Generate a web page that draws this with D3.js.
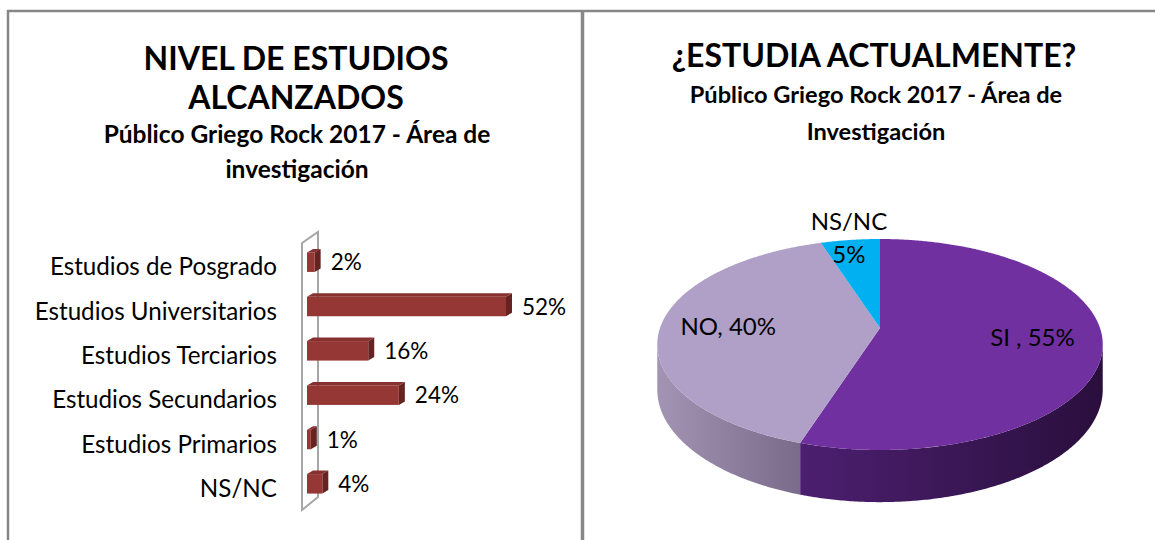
<!DOCTYPE html>
<html><head><meta charset="utf-8">
<script src="https://cdn.jsdelivr.net/npm/d3@7/dist/d3.min.js"></script>
<style>
html,body{margin:0;padding:0;background:#fff;}
svg{display:block;}
text{font-family:Lato,"Noto Sans",sans-serif;fill:#000;}
</style></head>
<body>
<svg id="chart" width="1155" height="540"></svg>
<script>
// ---------- DATA ----------
const barCategories = ["Estudios de Posgrado","Estudios Universitarios","Estudios Terciarios","Estudios Secundarios","Estudios Primarios","NS/NC"];
const barValues = [2, 52, 16, 24, 1, 4];
const barLabels = ["2%","52%","16%","24%","1%","4%"];

const pieCategories = ["SI ","NO","NS/NC"];
const pieValues = [55, 40, 5];
const pieLabels = ["SI , 55%","NO, 40%","NS/NC\n5%"];

const leftTitle = ["NIVEL DE ESTUDIOS","ALCANZADOS"];
const leftSubtitle = ["Público Griego Rock 2017 - Área de","investigación"];
const rightTitle = ["¿ESTUDIA ACTUALMENTE?"];
const rightSubtitle = ["Público Griego Rock 2017 - Área de","Investigación"];

// ---------- SETUP ----------
const svg = d3.select("#chart");
const frame = "#878787";

// panel borders
svg.append("line").attr("x1",7).attr("x2",1155).attr("y1",11).attr("y2",11).attr("stroke",frame).attr("stroke-width",2.5);
svg.append("line").attr("x1",8).attr("x2",8).attr("y1",10).attr("y2",540).attr("stroke",frame).attr("stroke-width",2.5);
svg.append("line").attr("x1",582.5).attr("x2",582.5).attr("y1",10).attr("y2",540).attr("stroke",frame).attr("stroke-width",3.5);

// ---------- LEFT TITLES ----------
const lt = svg.append("g");
lt.selectAll("text.t").data(leftTitle).join("text")
  .attr("x",296).attr("y",(d,i)=>70+i*39)
  .attr("text-anchor","middle").attr("font-weight","bold").attr("font-size",32).text(d=>d);
lt.selectAll("text.s").data(leftSubtitle).join("text")
  .attr("x",297).attr("y",(d,i)=>143+i*35)
  .attr("text-anchor","middle").attr("font-weight","bold").attr("font-size",24.5).text(d=>d);

// ---------- BAR CHART ----------
const x = d3.scaleLinear().domain([0,52]).range([307,506]);
const y = d3.scalePoint().domain(barCategories).range([240,506]).padding(0.5);
const bh = 19.5, dx = 6, dy = 3.5;

// 3D wall (side wall of the plot)
const wx0 = x(0)-5, wdx = 16, wdy = 11;
const wTop = y.range()[0]+3, wBot = y.range()[1]+4;
svg.append("path")
  .attr("d", `M${wx0},${wTop} L${wx0+wdx},${wTop-wdy} L${wx0+wdx},${wBot-wdy-2} L${wx0},${wBot} Z`)
  .attr("fill","none").attr("stroke","#a6a6a6").attr("stroke-width",2);

const bars = svg.append("g").selectAll("g").data(barCategories.map((c,i)=>({c,v:barValues[i],l:barLabels[i]}))).join("g");
bars.each(function(d){
  const g = d3.select(this);
  const x0 = x(0), x1 = x(d.v), yc = y(d.c), t = yc-bh/2, b = yc+bh/2;
  g.append("path").attr("d",`M${x0},${t} L${x1},${t} L${x1+dx},${t-dy} L${x0+dx},${t-dy} Z`).attr("fill","#86302f");
  g.append("path").attr("d",`M${x1},${t} L${x1+dx},${t-dy} L${x1+dx},${b-dy} L${x1},${b} Z`).attr("fill","#652322");
  g.append("rect").attr("x",x0).attr("y",t).attr("width",x1-x0).attr("height",bh).attr("fill","#953735");
  g.append("text").attr("x",x1+16).attr("y",yc+8).attr("font-size",22.5).text(d.l);
});
// category labels
svg.append("g").selectAll("text").data(barCategories).join("text")
  .attr("x",277).attr("y",d=>y(d)+13).attr("text-anchor","end").attr("font-size",24.2).text(d=>d);

// ---------- RIGHT TITLES ----------
const rt = svg.append("g");
rt.selectAll("text.t").data(rightTitle).join("text")
  .attr("x",874).attr("y",67)
  .attr("text-anchor","middle").attr("font-weight","bold").attr("font-size",32).text(d=>d);
rt.selectAll("text.s").data(rightSubtitle).join("text")
  .attr("x",876).attr("y",(d,i)=>103+i*37)
  .attr("text-anchor","middle").attr("font-weight","bold").attr("font-size",23.6).text(d=>d);

// ---------- 3D PIE ----------
const cx = 880, cy = 328, Rx = 220, Rs = 102.9, k = 0.1564, depth = 44;
function proj(a, f, h){
  const u = Math.sin(a)*f, v = -Math.cos(a)*f;
  const s = 1/(1-k*v);
  return [cx + Rx*u*s, cy + Rs*v*s + h*s];
}
const pie = d3.pie().sort(null).value(d=>d)(pieValues);
const topColors = ["#7030a0","#b09fc6","#00b0f0"];
const defs = svg.append("defs");
const gradSpecs = [
  {id:"gSI", stops:[["0%","#4c1f70"],["100%","#2a0f3d"]]},
  {id:"gNO", stops:[["0%","#a394b4"],["100%","#7b6b8b"]]},
  {id:"gNS", stops:[["0%","#0090c8"],["100%","#006f9c"]]}
];
gradSpecs.forEach(gs=>{
  const lg = defs.append("linearGradient").attr("id",gs.id).attr("x1","0%").attr("x2","100%").attr("y1","0%").attr("y2","0%");
  gs.stops.forEach(s=>lg.append("stop").attr("offset",s[0]).attr("stop-color",s[1]));
});
const vA0 = Math.acos(-k), vA1 = 2*Math.PI - Math.acos(-k);
const step = Math.PI/360;
function arcPts(a0,a1,f,h){
  const pts=[]; const n=Math.max(2,Math.ceil((a1-a0)/step));
  for(let i=0;i<=n;i++){pts.push(proj(a0+(a1-a0)*i/n,f,h));}
  return pts;
}
const line = d3.line();
pie.forEach((p,i)=>{
  const a0 = Math.max(p.startAngle,vA0), a1 = Math.min(p.endAngle,vA1);
  if(a1<=a0) return;
  const topE = arcPts(a0,a1,1,0), botE = arcPts(a0,a1,1,depth).reverse();
  svg.append("path").attr("d",line(topE.concat(botE))+"Z")
    .attr("fill",`url(#${gradSpecs[i].id})`);
});
pie.forEach((p,i)=>{
  const pts=[proj(0,0,0)].concat(arcPts(p.startAngle,p.endAngle,1,0));
  svg.append("path").attr("d",line(pts)+"Z").attr("fill",topColors[i]);
});
const labelF = [0.69,0.69,1.05];
pie.forEach((p,i)=>{
  const mid=(p.startAngle+p.endAngle)/2;
  const [lx,ly]=proj(mid,labelF[i],0);
  const lines = pieLabels[i].split("\n");
  const t = svg.append("text").attr("text-anchor","middle").attr("font-size",24);
  if(lines.length===1){
    t.attr("x",lx).attr("y",ly+7).text(lines[0]);
  } else {
    t.selectAll("tspan").data(lines).join("tspan").attr("x",lx).attr("y",(d,j)=>ly-6+j*33).text(d=>d);
  }
});
</script>
</body></html>
